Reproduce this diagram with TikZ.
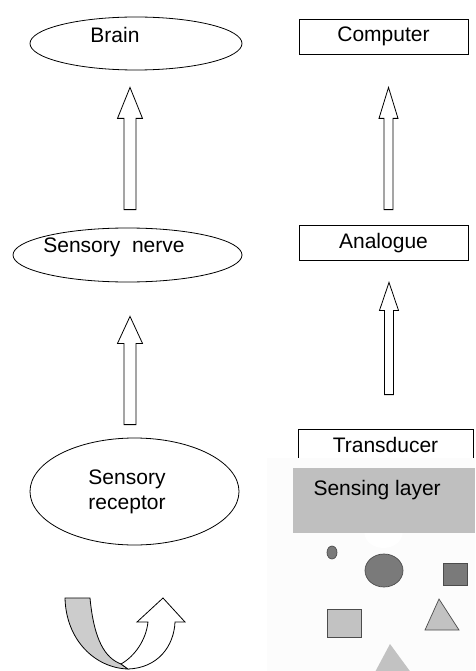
\documentclass[tikz,border=0pt]{standalone}
\usepackage{fontspec}
\setmainfont{Liberation Sans}
\usetikzlibrary{shapes.geometric,calc}

\definecolor{darkshape}{gray}{0.48}
\definecolor{lightshape}{gray}{0.76}
\definecolor{layergray}{gray}{0.75}
\definecolor{bandgray}{gray}{0.80}

% hollow upward block arrow: base, tip, half shaft, half head, head length
\newcommand{\hollowup}[5]{%
  \draw[hollow] ($(#1)+(-#3,0)$) -- ($(#2)+(-#3,#5)$) -- ($(#2)+(-#4,#5)$)
    -- (#2) -- ($(#2)+(#4,#5)$) -- ($(#2)+(#3,#5)$) -- ($(#1)+(#3,0)$) -- cycle;}

\begin{document}
\begin{tikzpicture}[
    x=1pt, y=-1pt,
    every node/.style={font=\fontsize{21}{25}\selectfont},
    organ/.style={ellipse, draw, line width=0.8pt, inner sep=0pt},
    stage/.style={rectangle, draw, line width=0.8pt, inner sep=0pt, minimum height=35pt,
        text height=15pt, text depth=4pt},
    hollow/.style={draw, fill=white, line width=0.8pt, line join=miter},
    blob/.style={draw=black!70, line width=0.7pt}
]
    \useasboundingbox (0,0) rectangle (475,671);

    % Biological chain
    \node[organ, minimum width=212pt, minimum height=53pt] (brain) at (136,43.5) {};
    \node (brainlbl) at (115,35) {Brain};
    \node[organ, minimum width=229pt, minimum height=54pt] (nerve) at (127.5,255) {};
    \node (nervelbl) at (114,247) {Sensory~~nerve};
    \node[organ, minimum width=209pt, minimum height=107pt] (receptor) at (134.5,491.5) {};
    \node[align=center] (receptorlbl) at (127,492) {Sensory\\receptor};

    \coordinate (a1b) at ($(nerve.north)+(2.5,-18)$);
    \coordinate (a1t) at ($(brain.south)+(-6,17)$);
    \coordinate (a2b) at ($(receptor.north)+(-4.5,-13)$);
    \coordinate (a2t) at ($(nerve.south)+(2.5,34)$);
    \hollowup{a1b}{a1t}{6}{12.5}{31}
    \hollowup{a2b}{a2t}{6}{12.5}{27}

    % Stimulus (U-turn arrow)
    \draw[fill=bandgray, line width=0.8pt] (65,598) -- (90,598)
        .. controls (94,640) and (105,658) .. (121,664) -- (128,669)
        .. controls (95,668) and (66,640) .. (65,598) -- cycle;
    \draw[hollow] (121,664) .. controls (135,656) and (146,640) .. (148,622)
        -- (137,622) -- (163,598) -- (185,622) -- (175,622)
        .. controls (174,646) and (158,668) .. (128,669) -- cycle;

    % Sensor chain
    \node[stage, minimum width=169pt] (computer) at (383.5,36.5) {Computer};
    \node[stage, minimum width=169pt] (analogue) at (383.5,242.5) {Analogue};
    \node[stage, minimum width=175pt] (transducer) at (385.5,446.5) {Transducer};

    \coordinate (a3b) at ($(analogue.north)+(5,-15)$);
    \coordinate (a3t) at ($(computer.south)+(5,33)$);
    \coordinate (a4b) at ($(transducer.north)+(3.5,-34)$);
    \coordinate (a4t) at ($(analogue.south)+(5.5,22)$);
    \hollowup{a3b}{a3t}{4.5}{9.5}{31}
    \hollowup{a4b}{a4t}{4.5}{9.5}{28}

    % Sensing layer and analytes
    \fill[black!1] (267,458) rectangle (475,671);
    \fill[layergray] (293,468) rectangle (475,533);
    \fill[white] (364.5,533) arc[start angle=180, end angle=0, x radius=19, y radius=15] -- cycle;
    \node[anchor=west] (layer) at (310,490) {Sensing layer};

    \draw[blob, fill=darkshape] (332,552.5) ellipse[x radius=5, y radius=6.5];
    \draw[blob, fill=darkshape] (384,570.5) ellipse[x radius=19, y radius=16.5];
    \draw[blob, fill=darkshape] (443,563) rectangle (467,585);
    \draw[blob, fill=lightshape] (327,609) rectangle (361,637);
    \draw[blob, fill=lightshape] (439,599) -- (459,630) -- (425,630) -- cycle;
    \fill[lightshape] (390,644) -- (412,674) -- (374,674) -- cycle;
\end{tikzpicture}
\end{document}
